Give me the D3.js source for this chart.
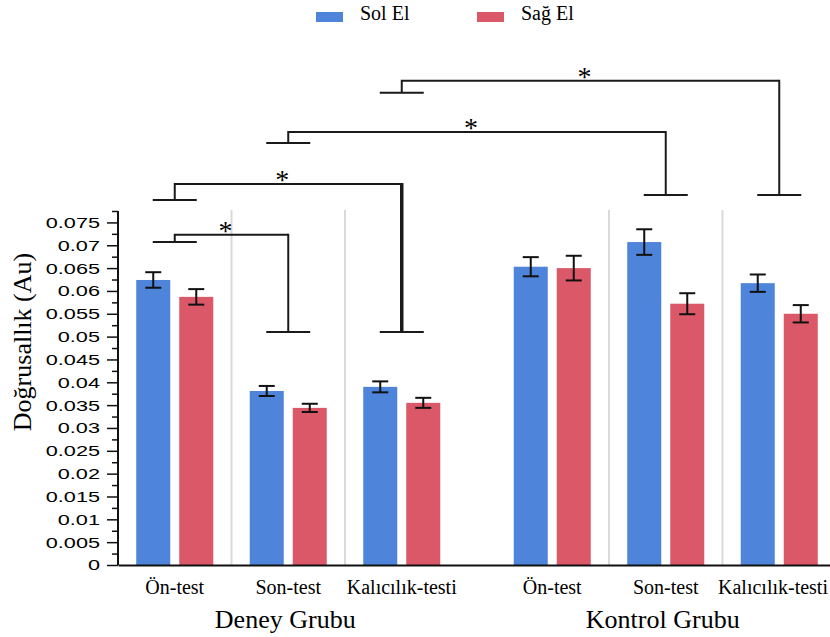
<!DOCTYPE html>
<html>
<head>
<meta charset="utf-8">
<script src="https://cdn.jsdelivr.net/npm/d3@7"></script>
<style>
  body { margin: 0; background: #fff; }
  svg { display: block; }
</style>
</head>
<body>
<script>
// chart data
var groups = ["Deney Grubu", "Kontrol Grubu"];
var tests = ["Ön-test", "Son-test", "Kalıcılık-testi"];
var series = ["Sol El", "Sağ El"];
var colors = ["#4f84db", "#db5869"];

// values in order: Deney (Ön, Son, Kalıcılık), Kontrol (Ön, Son, Kalıcılık)
var solEl  = [0.0624, 0.0381, 0.0390, 0.0653, 0.0707, 0.0617];
var sagEl  = [0.0587, 0.0344, 0.0355, 0.0650, 0.0572, 0.0550];
var solErr = [0.0017, 0.0011, 0.0012, 0.0021, 0.0028, 0.0019];
var sagErr = [0.0017, 0.0009, 0.0011, 0.0027, 0.0023, 0.0019];

var yTicks = [0, 0.005, 0.01, 0.015, 0.02, 0.025, 0.03, 0.035, 0.04,
              0.045, 0.05, 0.055, 0.06, 0.065, 0.07, 0.075];
var yMinorTicks = [0.0025, 0.0075, 0.0125, 0.0175, 0.0225, 0.0275, 0.0325, 0.0375,
                   0.0425, 0.0475, 0.0525, 0.0575, 0.0625, 0.0675, 0.0725, 0.0775];

// significance brackets: category index from/to, levels in data units
var brackets = [
  { from: 0, to: 1, base1: 0.0707, top: 0.0723, base2: 0.0510, heavy: false },
  { from: 0, to: 2, base1: 0.0799, top: 0.0834, base2: 0.0510, heavy: true },
  { from: 1, to: 4, base1: 0.0924, top: 0.0948, base2: 0.0810, heavy: false },
  { from: 2, to: 5, base1: 0.1034, top: 0.1060, base2: 0.0810, heavy: false }
];

var width = 830, height = 637;
var serif = "'Liberation Serif', 'Times New Roman', serif";
var sans = "'Liberation Sans', Arial, sans-serif";

var svg = d3.select("body").append("svg")
    .attr("width", width)
    .attr("height", height);

// scales
var y = d3.scaleLinear().domain([0, 0.0775]).range([565, 211]);
var x0 = d3.scaleBand().domain(groups).range([118, 836]).paddingInner(0.098);
var x1 = d3.scaleBand().domain(tests).range([0, x0.bandwidth()]);
var x2 = d3.scaleBand().domain(series).range([0, x1.bandwidth()])
    .paddingInner(0.209).paddingOuter(0.424);

// flat list of categories
var cats = [];
groups.forEach(function(g) {
  tests.forEach(function(t) { cats.push({ group: g, test: t }); });
});
cats.forEach(function(c, i) {
  c.x = x0(c.group) + x1(c.test);
  c.cx = c.x + x1.bandwidth() / 2;
  c.values = [
    { s: series[0], v: solEl[i], e: solErr[i], color: colors[0] },
    { s: series[1], v: sagEl[i], e: sagErr[i], color: colors[1] }
  ];
});

// light separators between tests inside each group
svg.append("g").attr("class", "separators")
  .selectAll("line")
  .data(cats.filter(function(c) { return c.test !== tests[0]; }))
  .enter().append("line")
    .attr("x1", function(d) { return d.x; })
    .attr("x2", function(d) { return d.x; })
    .attr("y1", y(0.0775) - 1)
    .attr("y2", y(0))
    .attr("stroke", "#dadada")
    .attr("stroke-width", 2);

// bars
var catG = svg.append("g").attr("class", "bars")
  .selectAll("g")
  .data(cats)
  .enter().append("g")
    .attr("transform", function(d) { return "translate(" + d.x + ",0)"; });

catG.selectAll("rect")
  .data(function(d) { return d.values; })
  .enter().append("rect")
    .attr("x", function(d) { return x2(d.s); })
    .attr("y", function(d) { return y(d.v); })
    .attr("width", x2.bandwidth())
    .attr("height", function(d) { return y(0) - y(d.v); })
    .attr("fill", function(d) { return d.color; });

// error bars
var err = catG.selectAll("g.err")
  .data(function(d) { return d.values; })
  .enter().append("g").attr("class", "err")
    .attr("stroke", "#111")
    .attr("stroke-width", 2);

err.append("line")
    .attr("x1", function(d) { return x2(d.s) + x2.bandwidth() / 2; })
    .attr("x2", function(d) { return x2(d.s) + x2.bandwidth() / 2; })
    .attr("y1", function(d) { return y(d.v + d.e); })
    .attr("y2", function(d) { return y(d.v - d.e); });
[1, -1].forEach(function(sign) {
  err.append("line")
      .attr("x1", function(d) { return x2(d.s) + x2.bandwidth() / 2 - 8; })
      .attr("x2", function(d) { return x2(d.s) + x2.bandwidth() / 2 + 8; })
      .attr("y1", function(d) { return y(d.v + sign * d.e); })
      .attr("y2", function(d) { return y(d.v + sign * d.e); });
});

// x axis line (no ticks)
svg.append("g")
    .attr("transform", "translate(0," + y(0) + ")")
    .call(d3.axisBottom(x0).tickSize(0).tickSizeOuter(0).tickFormat(""))
    .call(function(g) {
      g.select(".domain").attr("stroke", "#111").attr("stroke-width", 2);
    });

// y axis minor ticks
svg.append("g")
    .attr("transform", "translate(118,0)")
    .call(d3.axisLeft(y).tickValues(yMinorTicks).tickSize(6).tickFormat(""))
    .call(function(g) {
      g.select(".domain").remove();
      g.selectAll("line").attr("stroke", "#111").attr("stroke-width", 1.5);
    });

// y axis major ticks + labels
var sx = 1.4;
svg.append("g")
    .attr("transform", "translate(118,0)")
    .call(d3.axisLeft(y).tickValues(yTicks).tickSize(11).tickSizeOuter(0)
      .tickFormat(function(d) { return String(d); }))
    .call(function(g) {
      g.select(".domain").attr("stroke", "#111").attr("stroke-width", 2)
        .attr("d", "M0," + y(0.0775) + "V" + y(0));
      g.selectAll("line").attr("stroke", "#111").attr("stroke-width", 1.5);
      g.selectAll("text")
        .attr("x", -18 / sx)
        .attr("transform", "scale(" + sx + ",1)")
        .attr("fill", "#000")
        .style("font-family", sans)
        .style("font-size", "15.5px");
    });

// y title
svg.append("text")
    .attr("transform", "translate(31,342) rotate(-90)")
    .attr("text-anchor", "middle")
    .style("font-family", serif)
    .style("font-size", "26px")
    .text("Doğrusallık (Au)");

// category labels (keep the last one inside the picture)
svg.append("g").selectAll("text")
  .data(cats)
  .enter().append("text")
    .attr("x", function(d) { return d.cx; })
    .attr("y", 594)
    .attr("text-anchor", "middle")
    .style("font-family", serif)
    .style("font-size", "20px")
    .text(function(d) { return d.test; })
    .each(function(d) {
      var w = this.getComputedTextLength();
      var over = d.cx + w / 2 - (width - 2);
      if (over > 0) d3.select(this).attr("x", d.cx - over);
    });

// group labels
svg.append("g").selectAll("text")
  .data(groups)
  .enter().append("text")
    .attr("x", function(d) { return x0(d) + x0.bandwidth() / 2 - 3; })
    .attr("y", 628)
    .attr("text-anchor", "middle")
    .style("font-family", serif)
    .style("font-size", "26px")
    .text(function(d) { return d; });

// brackets
var bw = 22;
var br = svg.append("g").attr("class", "brackets")
  .selectAll("g")
  .data(brackets)
  .enter().append("g")
    .attr("fill", "none")
    .attr("stroke", "#1a1a1a")
    .attr("stroke-width", 2);

br.append("path")
    .attr("d", function(d) {
      var a = cats[d.from].cx, b = cats[d.to].cx;
      return "M" + (a - bw) + "," + y(d.base1) + "H" + (a + bw) +
             "M" + a + "," + y(d.base1) + "V" + y(d.top) + "H" + b +
             "M" + (b - bw) + "," + y(d.base2) + "H" + (b + bw);
    });
br.append("line")
    .attr("x1", function(d) { return cats[d.to].cx; })
    .attr("x2", function(d) { return cats[d.to].cx; })
    .attr("y1", function(d) { return y(d.top) - 1; })
    .attr("y2", function(d) { return y(d.base2); })
    .attr("stroke-width", function(d) { return d.heavy ? 3.5 : 2; });
br.append("text")
    .attr("x", function(d) { return (cats[d.from].cx + cats[d.to].cx) / 2 - 6; })
    .attr("y", function(d) { return y(d.top) + 5; })
    .attr("text-anchor", "middle")
    .attr("stroke", "none")
    .attr("fill", "#000")
    .style("font-family", serif)
    .style("font-size", "28px")
    .text("*");

// legend
var leg = svg.append("g").selectAll("g")
  .data(series)
  .enter().append("g")
    .attr("transform", function(d, i) { return "translate(" + (316 + i * 161) + ",12)"; });
leg.append("rect")
    .attr("width", 27)
    .attr("height", 10)
    .attr("fill", function(d, i) { return colors[i]; });
leg.append("text")
    .attr("x", 44)
    .attr("y", 8)
    .style("font-family", serif)
    .style("font-size", "20px")
    .text(function(d) { return d; });
</script>
</body>
</html>
